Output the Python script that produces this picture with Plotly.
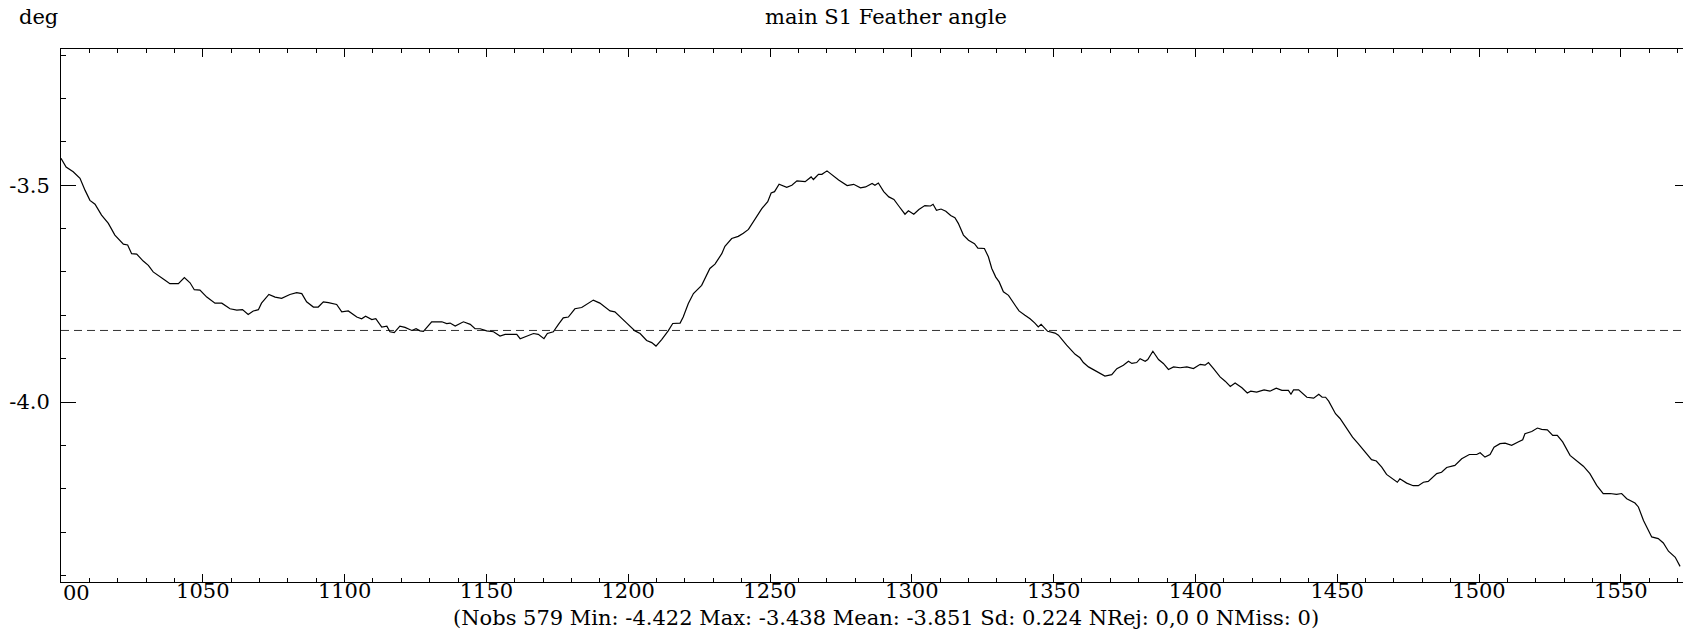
import plotly.graph_objects as go

# ---- data ----
obs_x = [
    1000.0, 1001.8, 1004.3, 1006.7, 1008.5, 1010.2, 1012.0, 1014.3, 1016.7, 1019.0,
    1022.0, 1023.5, 1024.9, 1026.7, 1029.0, 1030.8, 1032.5, 1034.9, 1036.7, 1038.4,
    1041.4, 1043.5, 1045.5, 1047.0, 1049.0, 1051.4, 1054.3, 1056.7, 1059.6, 1062.0,
    1064.0, 1066.0, 1067.8, 1069.6, 1070.7, 1073.3, 1075.5, 1077.8, 1080.7, 1083.1,
    1084.9, 1086.6, 1089.0, 1090.7, 1092.5, 1094.3, 1097.2, 1099.0, 1101.3, 1104.3,
    1106.0, 1107.4, 1109.6, 1111.0, 1113.1, 1114.9, 1116.0, 1117.5, 1119.5, 1121.3,
    1123.7, 1125.2, 1126.6, 1127.8, 1130.7, 1134.3, 1136.0, 1137.2, 1139.0, 1141.9,
    1144.3, 1146.0, 1147.8, 1150.1, 1152.5, 1154.8, 1156.6, 1159.0, 1160.7, 1161.9,
    1164.2, 1166.6, 1168.3, 1170.3, 1171.5, 1173.6, 1175.4, 1177.1, 1178.9, 1181.2,
    1183.6, 1185.9, 1187.7, 1190.0, 1191.8, 1193.6, 1195.3, 1197.1, 1199.5, 1202.4,
    1204.2, 1206.5, 1208.3, 1209.8, 1211.8, 1214.1, 1215.7, 1218.3, 1219.4, 1221.2,
    1223.0, 1225.9, 1228.8, 1230.6, 1233.0, 1234.1, 1236.5, 1238.8, 1240.6, 1242.4,
    1244.7, 1247.1, 1249.2, 1250.4, 1251.6, 1253.2, 1255.9, 1257.7, 1259.5, 1262.4,
    1264.5, 1265.3, 1267.1, 1268.3, 1270.1, 1271.9, 1274.2, 1277.2, 1279.5, 1281.9,
    1283.7, 1286.0, 1287.0, 1288.2, 1290.1, 1291.9, 1293.7, 1295.4, 1297.6, 1298.8,
    1300.7, 1302.5, 1304.6, 1306.6, 1307.5, 1308.7, 1310.3, 1312.0, 1313.7, 1315.2,
    1316.4, 1318.2, 1320.0, 1322.1, 1323.3, 1325.6, 1327.0, 1328.2, 1329.6, 1330.8,
    1332.3, 1334.1, 1335.8, 1337.8, 1339.9, 1341.7, 1343.4, 1344.6, 1345.6, 1347.9,
    1350.5, 1351.7, 1354.6, 1357.6, 1359.3, 1360.5, 1362.3, 1364.0, 1365.8, 1368.1,
    1370.5, 1372.3, 1374.6, 1376.4, 1377.6, 1379.3, 1380.5, 1382.3, 1383.2, 1385.0,
    1387.0, 1388.7, 1390.5, 1392.3, 1394.6, 1397.0, 1399.3, 1401.7, 1403.4, 1404.6,
    1406.4, 1408.7, 1410.5, 1412.3, 1414.0, 1416.4, 1418.3, 1419.5, 1421.6, 1424.2,
    1426.3, 1428.5, 1430.5, 1432.8, 1433.7, 1434.6, 1436.4, 1439.3, 1441.7, 1443.5,
    1444.7, 1445.9, 1447.0, 1449.4, 1451.0, 1453.3, 1455.4, 1457.4, 1459.7, 1462.1,
    1463.8, 1465.7, 1467.4, 1469.5, 1471.2, 1472.1, 1474.5, 1476.8, 1478.6, 1480.4,
    1482.1, 1485.1, 1486.8, 1488.6, 1491.5, 1493.9, 1496.6, 1499.2, 1500.4, 1502.1,
    1503.9, 1505.3, 1507.4, 1509.2, 1511.5, 1513.8, 1515.4, 1516.2, 1518.6, 1520.6,
    1522.1, 1524.1, 1526.0, 1527.6, 1529.5, 1532.1, 1534.4, 1536.8, 1539.1, 1541.5,
    1543.8, 1546.2, 1548.5, 1550.3, 1552.1, 1555.0, 1556.2, 1558.0, 1560.9, 1563.2,
    1565.0, 1566.8, 1569.2, 1570.9,
]
feather_angle = [
    -3.438, -3.458, -3.469, -3.484, -3.512, -3.535, -3.544, -3.569, -3.588, -3.615,
    -3.636, -3.638, -3.658, -3.659, -3.675, -3.685, -3.700, -3.710, -3.719, -3.727,
    -3.727, -3.713, -3.725, -3.741, -3.742, -3.758, -3.772, -3.772, -3.785, -3.788,
    -3.787, -3.798, -3.790, -3.787, -3.772, -3.752, -3.758, -3.761, -3.752, -3.748,
    -3.750, -3.769, -3.781, -3.781, -3.769, -3.771, -3.775, -3.792, -3.790, -3.804,
    -3.808, -3.802, -3.810, -3.808, -3.827, -3.825, -3.838, -3.840, -3.825, -3.828,
    -3.835, -3.831, -3.836, -3.837, -3.815, -3.815, -3.819, -3.818, -3.825, -3.815,
    -3.821, -3.831, -3.831, -3.836, -3.838, -3.848, -3.844, -3.844, -3.844, -3.854,
    -3.848, -3.842, -3.844, -3.854, -3.842, -3.838, -3.821, -3.806, -3.804, -3.785,
    -3.782, -3.773, -3.765, -3.772, -3.781, -3.790, -3.792, -3.804, -3.818, -3.836,
    -3.842, -3.858, -3.863, -3.871, -3.856, -3.836, -3.819, -3.818, -3.804, -3.773,
    -3.750, -3.731, -3.692, -3.682, -3.658, -3.641, -3.623, -3.618, -3.611, -3.602,
    -3.577, -3.554, -3.538, -3.518, -3.515, -3.498, -3.505, -3.500, -3.490, -3.492,
    -3.481, -3.487, -3.475, -3.475, -3.467, -3.477, -3.488, -3.501, -3.498, -3.506,
    -3.504, -3.496, -3.500, -3.495, -3.515, -3.527, -3.533, -3.548, -3.567, -3.559,
    -3.567, -3.556, -3.547, -3.548, -3.544, -3.558, -3.555, -3.560, -3.570, -3.575,
    -3.588, -3.615, -3.627, -3.635, -3.645, -3.646, -3.665, -3.692, -3.712, -3.723,
    -3.746, -3.754, -3.772, -3.790, -3.800, -3.808, -3.818, -3.827, -3.821, -3.837,
    -3.841, -3.846, -3.869, -3.890, -3.898, -3.909, -3.919, -3.925, -3.933, -3.940,
    -3.937, -3.923, -3.915, -3.906, -3.911, -3.909, -3.900, -3.906, -3.902, -3.883,
    -3.902, -3.911, -3.925, -3.919, -3.921, -3.919, -3.923, -3.913, -3.915, -3.909,
    -3.923, -3.942, -3.952, -3.964, -3.956, -3.967, -3.979, -3.975, -3.977, -3.972,
    -3.975, -3.968, -3.973, -3.973, -3.982, -3.972, -3.972, -3.989, -3.991, -3.982,
    -3.989, -3.989, -3.998, -4.027, -4.038, -4.061, -4.081, -4.096, -4.114, -4.133,
    -4.136, -4.150, -4.167, -4.178, -4.185, -4.177, -4.187, -4.193, -4.193, -4.185,
    -4.183, -4.165, -4.162, -4.151, -4.146, -4.131, -4.121, -4.121, -4.117, -4.127,
    -4.121, -4.104, -4.096, -4.095, -4.100, -4.092, -4.087, -4.073, -4.068, -4.060,
    -4.063, -4.064, -4.077, -4.077, -4.092, -4.123, -4.135, -4.148, -4.165, -4.192,
    -4.211, -4.211, -4.213, -4.211, -4.223, -4.233, -4.242, -4.273, -4.311, -4.315,
    -4.325, -4.344, -4.358, -4.379,
]
reference_level = -3.835  # dashed horizontal line as drawn

x_tick_vals = [1050, 1100, 1150, 1200, 1250, 1300, 1350, 1400, 1450, 1500, 1550]
x_tick_text = ["1050", "1100", "1150", "1200", "1250", "1300", "1350", "1400", "1450", "1500", "1550"]
y_tick_vals = [-3.5, -4.0]
y_tick_text = ["-3.5", "-4.0"]

title_text = "main S1 Feather angle"
unit_text = "deg"
stats_text = "(Nobs 579 Min: -4.422 Max: -3.438 Mean: -3.851 Sd: 0.224 NRej: 0,0 0 NMiss: 0)"
x_range = [1000, 1574.4]
y_range = [-4.415, -3.186]

FONT = "DejaVu Serif"
FS = 21

# figure a little wider than the window so the right frame edge falls just outside
FIG_W, FIG_H = 1690, 632
L, R, T, B = 61, 1690, 49, 582
PW, PH = R - L, B - T


def px_x(p):
    return (p - L) / PW


def px_y(p):
    return (B - p) / PH


fig = go.Figure()
fig.add_trace(go.Scatter(
    x=x_range, y=[reference_level, reference_level], mode="lines",
    line=dict(color="#333333", width=1, dash="8px,5px"), hoverinfo="skip",
))
fig.add_trace(go.Scatter(
    x=obs_x, y=feather_angle, mode="lines",
    line=dict(color="black", width=1.2),
))

fig.update_layout(
    width=FIG_W, height=FIG_H,
    margin=dict(l=L, r=FIG_W - R, t=T, b=FIG_H - B, pad=0, autoexpand=False),
    paper_bgcolor="white", plot_bgcolor="white",
    showlegend=False,
    font=dict(family=FONT, size=FS, color="black"),
    xaxis=dict(
        range=x_range, showgrid=False, zeroline=False, automargin=False,
        showline=True, linecolor="black", linewidth=1, mirror="ticks",
        ticks="inside", ticklen=8, tickwidth=1, tickcolor="black",
        tickmode="array", tickvals=x_tick_vals, ticktext=x_tick_text,
        tickfont=dict(family=FONT, size=FS, color="black"),
        ticklabelstandoff=-10,
        minor=dict(ticks="inside", ticklen=4, tickwidth=1, tickcolor="black",
                   tick0=1000, dtick=10, showgrid=False),
    ),
    yaxis=dict(
        range=y_range, showgrid=False, zeroline=False, automargin=False,
        showline=True, linecolor="black", linewidth=1, mirror="ticks",
        ticks="inside", ticklen=15, tickwidth=1, tickcolor="black",
        tickmode="array", tickvals=y_tick_vals, ticktext=y_tick_text,
        tickfont=dict(family=FONT, size=FS, color="black"),
        ticklabelstandoff=6,
        minor=dict(ticks="inside", ticklen=5, tickwidth=1, tickcolor="black",
                   tick0=-4.0, dtick=0.1, showgrid=False),
    ),
    annotations=[
        dict(text=unit_text, xref="paper", yref="paper", x=px_x(38), y=px_y(17),
             xanchor="center", yanchor="middle", showarrow=False,
             font=dict(family=FONT, size=FS, color="black")),
        dict(text=title_text, xref="paper", yref="paper", x=px_x(885.5), y=px_y(17),
             xanchor="center", yanchor="middle", showarrow=False,
             font=dict(family=FONT, size=FS, color="black")),
        dict(text=stats_text, xref="paper", yref="paper", x=px_x(885.5), y=px_y(618),
             xanchor="center", yanchor="middle", showarrow=False,
             font=dict(family=FONT, size=FS, color="black")),
        dict(text="00", xref="x", yref="paper", x=x_range[0], y=px_y(593),
             xanchor="left", yanchor="middle", showarrow=False,
             font=dict(family=FONT, size=FS, color="black")),
    ],
)

fig.write_html(
    "out.html",
    config={"displayModeBar": False},
    post_script="document.documentElement.style.margin='0';"
                "document.body.style.margin='0';"
                "document.body.style.overflow='hidden';",
)
